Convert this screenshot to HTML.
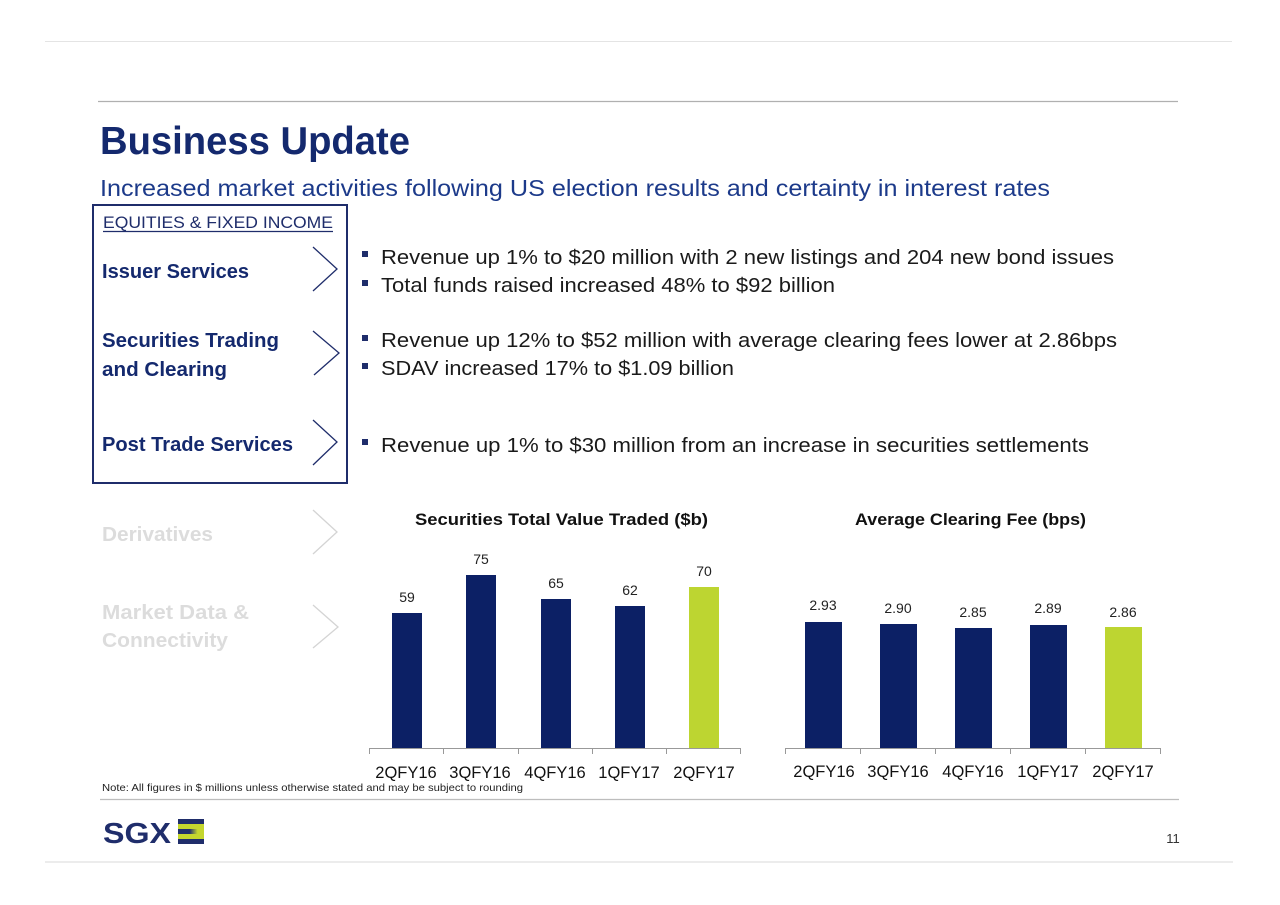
<!DOCTYPE html>
<html>
<head>
<meta charset="utf-8">
<style>
html,body{margin:0;padding:0;background:#fff;}
svg{display:block;}
text{font-family:"Liberation Sans",Arial,sans-serif;}
</style>
</head>
<body>
<svg width="1280" height="905" viewBox="0 0 1280 905" xmlns="http://www.w3.org/2000/svg">
<rect width="1280" height="905" fill="#fff"/>
<!-- frame lines -->
<line x1="45" y1="41.5" x2="1232" y2="41.5" stroke="#e4e4e4" stroke-width="1"/>
<line x1="98" y1="101.5" x2="1178" y2="101.5" stroke="#b0b0b0" stroke-width="1.2"/>
<line x1="100" y1="799.5" x2="1179" y2="799.5" stroke="#bdbdbd" stroke-width="1.2"/>
<line x1="45" y1="862" x2="1233" y2="862" stroke="#e0e0e0" stroke-width="1.2"/>

<!-- title -->
<text x="100" y="154" font-size="39" font-weight="bold" fill="#14296e" textLength="310" lengthAdjust="spacingAndGlyphs">Business Update</text>
<text x="100" y="196" font-size="23" fill="#1c3a8a" textLength="950" lengthAdjust="spacingAndGlyphs">Increased market activities following US election results and certainty in interest rates</text>

<!-- left box -->
<rect x="93" y="205" width="254" height="278" fill="none" stroke="#1f2d6b" stroke-width="2"/>
<text x="103" y="228" font-size="17" fill="#1f2d6b" textLength="230" lengthAdjust="spacingAndGlyphs">EQUITIES &amp; FIXED INCOME</text>
<line x1="103" y1="231.5" x2="333" y2="231.5" stroke="#1f2d6b" stroke-width="1.2"/>

<text x="102" y="278" font-size="20" font-weight="bold" fill="#14296e" textLength="147" lengthAdjust="spacingAndGlyphs">Issuer Services</text>
<text x="102" y="347" font-size="20" font-weight="bold" fill="#14296e" textLength="177" lengthAdjust="spacingAndGlyphs">Securities Trading</text>
<text x="102" y="376" font-size="20" font-weight="bold" fill="#14296e" textLength="125" lengthAdjust="spacingAndGlyphs">and Clearing</text>
<text x="102" y="451" font-size="20" font-weight="bold" fill="#14296e" textLength="191" lengthAdjust="spacingAndGlyphs">Post Trade Services</text>

<text x="102" y="541" font-size="20" font-weight="bold" fill="#dcdcdc" textLength="111" lengthAdjust="spacingAndGlyphs">Derivatives</text>
<text x="102" y="619" font-size="20" font-weight="bold" fill="#dcdcdc" textLength="147" lengthAdjust="spacingAndGlyphs">Market Data &amp;</text>
<text x="102" y="647" font-size="20" font-weight="bold" fill="#dcdcdc" textLength="126" lengthAdjust="spacingAndGlyphs">Connectivity</text>

<!-- chevrons -->
<polyline points="313,247 337,269 313,291" fill="none" stroke="#1f2d6b" stroke-width="1.3"/>
<polyline points="313,331 339,353 314,375" fill="none" stroke="#1f2d6b" stroke-width="1.3"/>
<polyline points="313,420 337,442 313,465" fill="none" stroke="#1f2d6b" stroke-width="1.3"/>
<polyline points="313,510 337,532 313,554" fill="none" stroke="#d4d4d4" stroke-width="1.3"/>
<polyline points="313,605 338,627 313,648" fill="none" stroke="#d4d4d4" stroke-width="1.3"/>

<!-- bullets -->
<g fill="#1f2d6b">
<rect x="362" y="251" width="6" height="6"/>
<rect x="362" y="280" width="6" height="6"/>
<rect x="362" y="335" width="6" height="6"/>
<rect x="362" y="363" width="6" height="6"/>
<rect x="362" y="439" width="6" height="6"/>
</g>
<g font-size="20.5" fill="#1a1a1a">
<text x="381" y="264" textLength="733" lengthAdjust="spacingAndGlyphs">Revenue up 1% to $20 million with 2 new listings and 204 new bond issues</text>
<text x="381" y="292" textLength="454" lengthAdjust="spacingAndGlyphs">Total funds raised increased 48% to $92 billion</text>
<text x="381" y="347" textLength="736" lengthAdjust="spacingAndGlyphs">Revenue up 12% to $52 million with average clearing fees lower at 2.86bps</text>
<text x="381" y="375" textLength="353" lengthAdjust="spacingAndGlyphs">SDAV increased 17% to $1.09 billion</text>
<text x="381" y="452" textLength="708" lengthAdjust="spacingAndGlyphs">Revenue up 1% to $30 million from an increase in securities settlements</text>
</g>

<!-- chart 1 -->
<text x="415" y="525" font-size="17" font-weight="bold" fill="#111" textLength="293" lengthAdjust="spacingAndGlyphs">Securities Total Value Traded ($b)</text>
<g fill="#0c2065">
<rect x="392" y="613" width="30" height="136"/>
<rect x="466" y="575" width="30" height="174"/>
<rect x="541" y="599" width="30" height="150"/>
<rect x="615" y="606" width="30" height="143"/>
</g>
<rect x="689" y="587" width="30" height="162" fill="#bdd531"/>
<g stroke="#999" stroke-width="1">
<line x1="369" y1="748.5" x2="741" y2="748.5"/>
<line x1="369.5" y1="748" x2="369.5" y2="754"/>
<line x1="443.5" y1="748" x2="443.5" y2="754"/>
<line x1="518.5" y1="748" x2="518.5" y2="754"/>
<line x1="592.5" y1="748" x2="592.5" y2="754"/>
<line x1="666.5" y1="748" x2="666.5" y2="754"/>
<line x1="740.5" y1="748" x2="740.5" y2="754"/>
</g>
<g font-size="14" fill="#222" text-anchor="middle">
<text x="407" y="602">59</text>
<text x="481" y="564">75</text>
<text x="556" y="588">65</text>
<text x="630" y="595">62</text>
<text x="704" y="576">70</text>
</g>
<g font-size="16.5" fill="#111" text-anchor="middle">
<text x="406" y="778">2QFY16</text>
<text x="480" y="778">3QFY16</text>
<text x="555" y="778">4QFY16</text>
<text x="629" y="778">1QFY17</text>
<text x="704" y="778">2QFY17</text>
</g>

<!-- chart 2 -->
<text x="855" y="525" font-size="17" font-weight="bold" fill="#111" textLength="231" lengthAdjust="spacingAndGlyphs">Average Clearing Fee (bps)</text>
<g fill="#0c2065">
<rect x="805" y="622" width="37" height="126"/>
<rect x="880" y="624" width="37" height="124"/>
<rect x="955" y="628" width="37" height="120"/>
<rect x="1030" y="625" width="37" height="123"/>
</g>
<rect x="1105" y="627" width="37" height="121" fill="#bdd531"/>
<g stroke="#999" stroke-width="1">
<line x1="785" y1="748.5" x2="1161" y2="748.5"/>
<line x1="785.5" y1="748" x2="785.5" y2="754"/>
<line x1="860.5" y1="748" x2="860.5" y2="754"/>
<line x1="935.5" y1="748" x2="935.5" y2="754"/>
<line x1="1010.5" y1="748" x2="1010.5" y2="754"/>
<line x1="1085.5" y1="748" x2="1085.5" y2="754"/>
<line x1="1160.5" y1="748" x2="1160.5" y2="754"/>
</g>
<g font-size="14" fill="#222" text-anchor="middle">
<text x="823" y="610">2.93</text>
<text x="898" y="613">2.90</text>
<text x="973" y="617">2.85</text>
<text x="1048" y="613">2.89</text>
<text x="1123" y="617">2.86</text>
</g>
<g font-size="16.5" fill="#111" text-anchor="middle">
<text x="824" y="777">2QFY16</text>
<text x="898" y="777">3QFY16</text>
<text x="973" y="777">4QFY16</text>
<text x="1048" y="777">1QFY17</text>
<text x="1123" y="777">2QFY17</text>
</g>

<!-- note -->
<text x="102" y="791" font-size="10.5" fill="#222" textLength="421" lengthAdjust="spacingAndGlyphs">Note: All figures in $ millions unless otherwise stated and may be subject to rounding</text>

<!-- logo -->
<defs>
<linearGradient id="g1" x1="0" x2="1" y1="0" y2="0">
<stop offset="0" stop-color="#1f2d6b"/>
<stop offset="0.45" stop-color="#1f2d6b"/>
<stop offset="0.75" stop-color="#c4d62e"/>
<stop offset="1" stop-color="#c4d62e"/>
</linearGradient>
</defs>
<text x="103" y="843" font-size="29" font-weight="bold" fill="#1f2d6b" textLength="68" lengthAdjust="spacingAndGlyphs">SGX</text>
<rect x="178" y="819" width="26" height="5" fill="#1f2d6b"/>
<rect x="178" y="824" width="26" height="5" fill="#c4d62e"/>
<rect x="178" y="829" width="26" height="5" fill="url(#g1)"/>
<rect x="178" y="834" width="26" height="5" fill="#c4d62e"/>
<rect x="178" y="839" width="26" height="5" fill="#1f2d6b"/>

<!-- page number -->
<text x="1173" y="843" font-size="13" fill="#333" text-anchor="middle">11</text>
</svg>
</body>
</html>
